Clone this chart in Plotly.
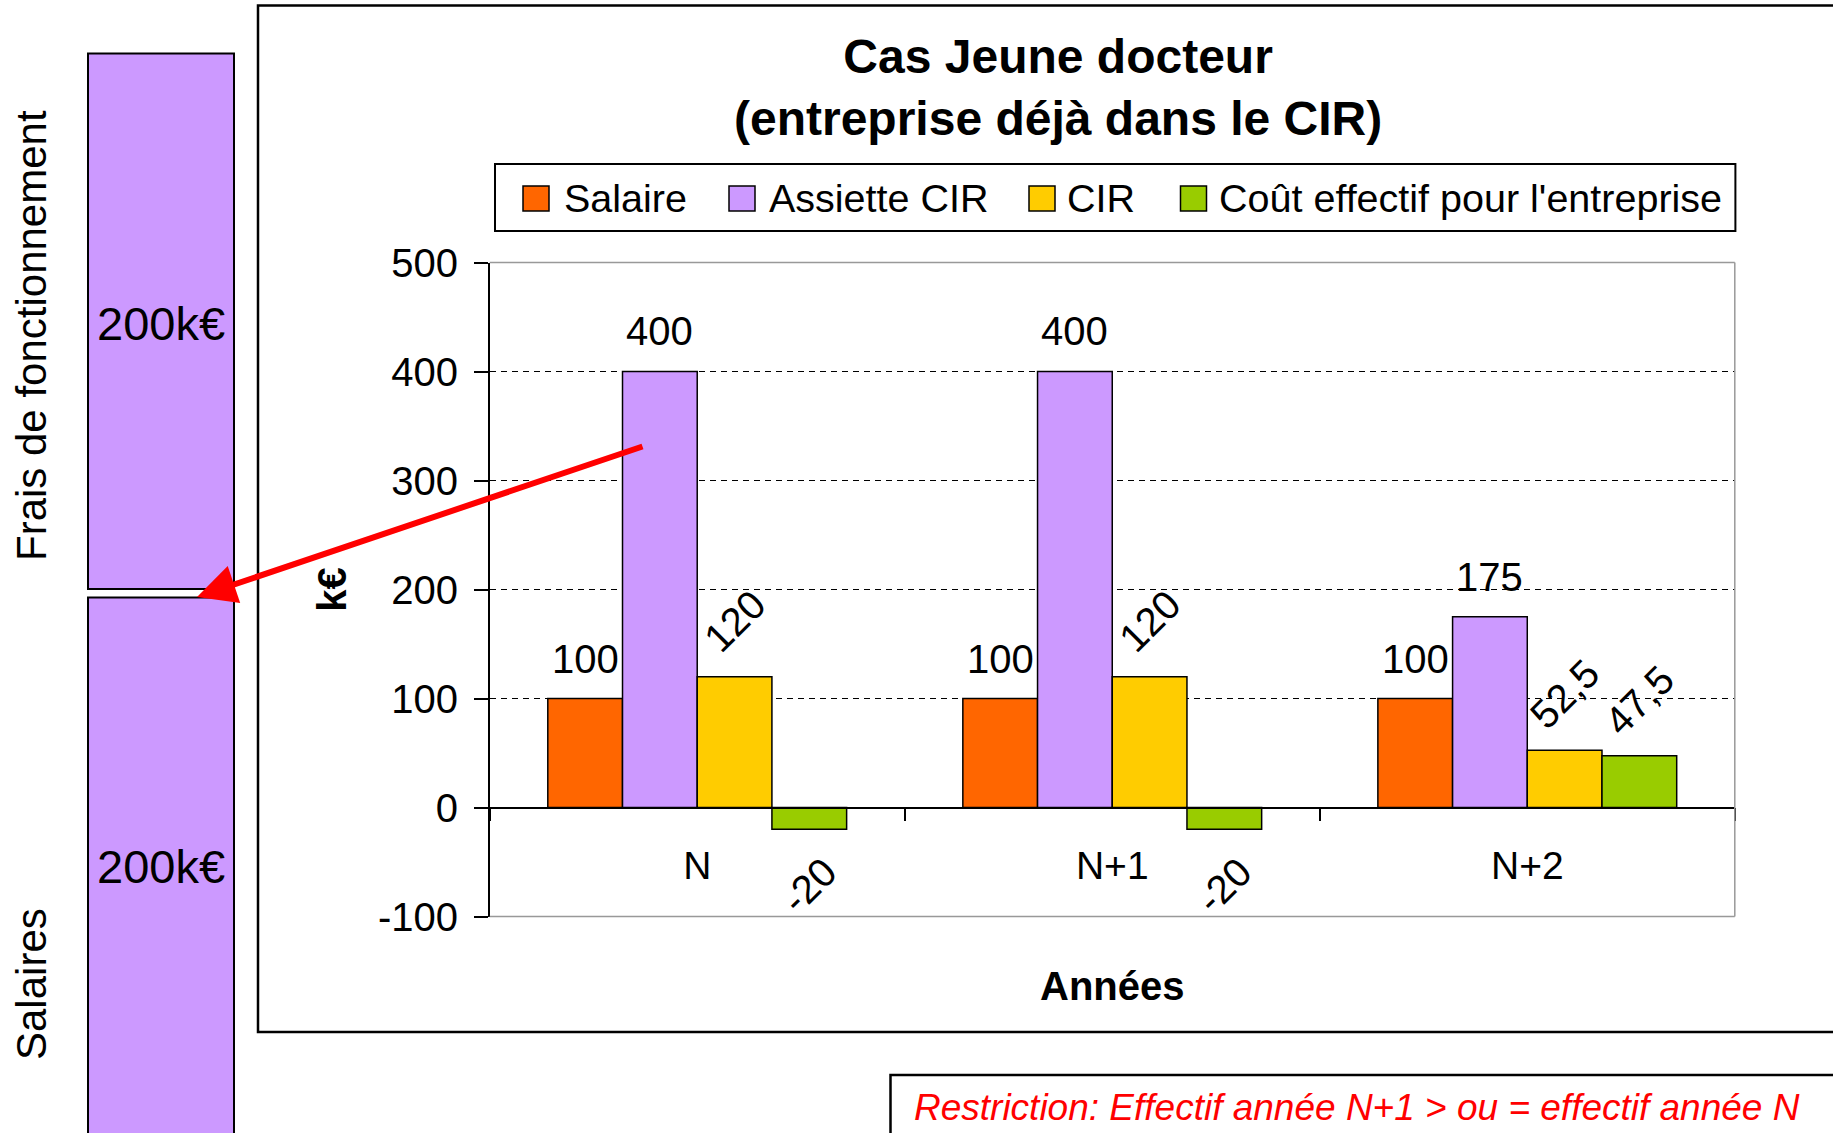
import plotly.graph_objects as go

# ---------------- data ----------------
categories = ["N", "N+1", "N+2"]
series_names = ["Salaire", "Assiette CIR", "CIR", "Coût effectif pour l'entreprise"]
salaire = [100, 100, 100]
assiette_cir = [400, 400, 175]
cir = [120, 120, 52.5]
cout_effectif = [-20, -20, 47.5]
y_tick_values = [-100, 0, 100, 200, 300, 400, 500]
side_box_labels = ["200k€", "200k€"]
side_captions = ["Frais de fonctionnement", "Salaires"]
title_lines = ["Cas Jeune docteur", "(entreprise déjà dans le CIR)"]
note_text = "Restriction: Effectif année N+1 > ou = effectif année N"
x_title = "Années"
y_title = "k€"

series_values = [salaire, assiette_cir, cir, cout_effectif]

# ---------------- style / layout ----------------
colors = ["#FF6600", "#CC99FF", "#FFCC00", "#99CC00"]
label_angles = [0, 0, -45, -45]
FONT = "Liberation Sans, Arial, sans-serif"
W, H = 1833, 1133
BAR_GAP = 0.28


def px(x):
    return x / W


def py(y):
    return 1 - y / H


x_dom = [px(489.7), px(1734.8)]
y_dom = [py(916.5), py(262.5)]
y_min, y_max = y_tick_values[0], y_tick_values[-1]
zero_pos = y_dom[0] + (0 - y_min) / (y_max - y_min) * (y_dom[1] - y_dom[0])

fig = go.Figure()
for name, vals, col in zip(series_names, series_values, colors):
    fig.add_trace(go.Bar(
        x=categories, y=vals, name=name,
        marker=dict(color=col, line=dict(color="black", width=1.5)),
        showlegend=False,
    ))


def fmt(v):
    return f"{v:g}".replace(".", ",")


n = len(series_names)
bw = (1 - BAR_GAP) / n
annotations = []
for i, (vals, ang) in enumerate(zip(series_values, label_angles)):
    for j, v in enumerate(vals):
        off = (i - (n - 1) / 2) * bw
        shift = 40 if ang == 0 else 56
        annotations.append(dict(
            x=j + off, y=v, xref="x", yref="y", text=fmt(v), showarrow=False,
            textangle=ang, yshift=shift if v >= 0 else -shift,
            xanchor="center", yanchor="middle",
            font=dict(family=FONT, size=40, color="black"),
        ))

# title
annotations.append(dict(
    x=px(1057.5), y=py(87.5), xref="paper", yref="paper",
    text="<b>" + "<br>".join(title_lines) + "</b>", showarrow=False,
    xanchor="center", yanchor="middle", align="center",
    font=dict(family=FONT, size=48, color="black"),
))

shapes = []
# outer chart frame
shapes.append(dict(type="rect", xref="paper", yref="paper",
                   x0=px(258), x1=px(1860), y0=py(1032), y1=py(5.5),
                   line=dict(color="black", width=2.5), fillcolor="rgba(0,0,0,0)", layer="below"))
# legend box
shapes.append(dict(type="rect", xref="paper", yref="paper",
                   x0=px(495), x1=px(1735.4), y0=py(231), y1=py(164),
                   line=dict(color="black", width=2), fillcolor="white", layer="above"))
legend_swatch_x = [523, 729, 1029, 1180.5]
legend_text_x = [561.6, 766.5, 1065, 1216.6]
for name, col, sx, tx in zip(series_names, colors, legend_swatch_x, legend_text_x):
    shapes.append(dict(type="rect", xref="paper", yref="paper",
                       x0=px(sx), x1=px(sx + 26), y0=py(211), y1=py(186),
                       line=dict(color="black", width=1.5), fillcolor=col, layer="above"))
    annotations.append(dict(x=px(tx), y=py(198), xref="paper", yref="paper",
                            text=name, showarrow=False, xanchor="left", yanchor="middle",
                            font=dict(family=FONT, size=39.5, color="black")))

# plot area grey border (top, right, bottom)
for (x0, y0, x1, y1) in [(0, 1, 1, 1), (1, 0, 1, 1), (0, 0, 1, 0)]:
    shapes.append(dict(type="line", xref="x domain", yref="y domain",
                       x0=x0, y0=y0, x1=x1, y1=y1,
                       line=dict(color="#999999", width=1.5), layer="above"))

# left purple boxes
side_boxes = [(53.6, 589), (597.5, 1160)]
side_label_y = [323.5, 866]
for (t, b), lab, ly in zip(side_boxes, side_box_labels, side_label_y):
    shapes.append(dict(type="rect", xref="paper", yref="paper",
                       x0=px(88), x1=px(234), y0=py(b), y1=py(t),
                       line=dict(color="black", width=2), fillcolor="#CC99FF", layer="below"))
    annotations.append(dict(x=px(161), y=py(ly), xref="paper", yref="paper",
                            text=lab, showarrow=False, xanchor="center", yanchor="middle",
                            font=dict(family=FONT, size=47, color="black")))

caption_y = [336, 984]
for cap, cy in zip(side_captions, caption_y):
    annotations.append(dict(x=px(31), y=py(cy), xref="paper", yref="paper",
                            text=cap, showarrow=False, textangle=-90,
                            xanchor="center", yanchor="middle",
                            font=dict(family=FONT, size=42, color="black")))

# restriction note
shapes.append(dict(type="rect", xref="paper", yref="paper",
                   x0=px(890.5), x1=px(1860), y0=py(1160), y1=py(1075),
                   line=dict(color="black", width=2.5), fillcolor="white", layer="below"))
annotations.append(dict(x=px(912), y=py(1107), xref="paper", yref="paper",
                        text="<i>" + note_text + "</i>", showarrow=False,
                        xanchor="left", yanchor="middle",
                        font=dict(family=FONT, size=37, color="#FF0000")))

# red arrow
annotations.append(dict(x=px(197), y=py(597), xref="paper", yref="paper",
                        ax=644 - 197, ay=446 - 597, axref="pixel", ayref="pixel",
                        text="", showarrow=True, arrowhead=2, arrowsize=1.3,
                        arrowwidth=6, arrowcolor="#FF0000", standoff=0))

fig.update_layout(
    template="none",
    width=W, height=H,
    margin=dict(l=0, r=0, t=0, b=0),
    paper_bgcolor="white", plot_bgcolor="rgba(0,0,0,0)",
    barmode="group", bargap=BAR_GAP, bargroupgap=0,
    showlegend=False,
    font=dict(family=FONT, size=40, color="black"),
    shapes=shapes, annotations=annotations,
    xaxis=dict(
        type="category", domain=x_dom, anchor="free", position=zero_pos,
        showline=True, linecolor="black", linewidth=1.5,
        ticks="outside", tickson="boundaries", ticklen=13, tickwidth=1.5, tickcolor="black",
        showgrid=False, zeroline=False,
        tickfont=dict(family=FONT, size=39, color="black"),
        ticklabelstandoff=24,
        title=dict(text="<b>" + x_title + "</b>", font=dict(family=FONT, size=40, color="black"),
                   standoff=85),
    ),
    yaxis=dict(
        domain=y_dom, range=[y_min, y_max], tickvals=y_tick_values,
        ticktext=[str(v) for v in y_tick_values],
        showline=True, linecolor="black", linewidth=1.5,
        ticks="outside", ticklen=14, tickwidth=1.5, tickcolor="black",
        showgrid=True, gridcolor="black", gridwidth=1, griddash="6px,5px",
        zeroline=True, zerolinecolor="black", zerolinewidth=1.5,
        tickfont=dict(family=FONT, size=40, color="black"),
        ticklabelstandoff=8,
        title=dict(text="<b>" + y_title + "</b>", font=dict(family=FONT, size=40, color="black"),
                   standoff=19),
    ),
)

fig.write_html("out.html", config={"displayModeBar": False},
               post_script="document.body.style.margin='0';document.body.style.overflow='hidden';")
